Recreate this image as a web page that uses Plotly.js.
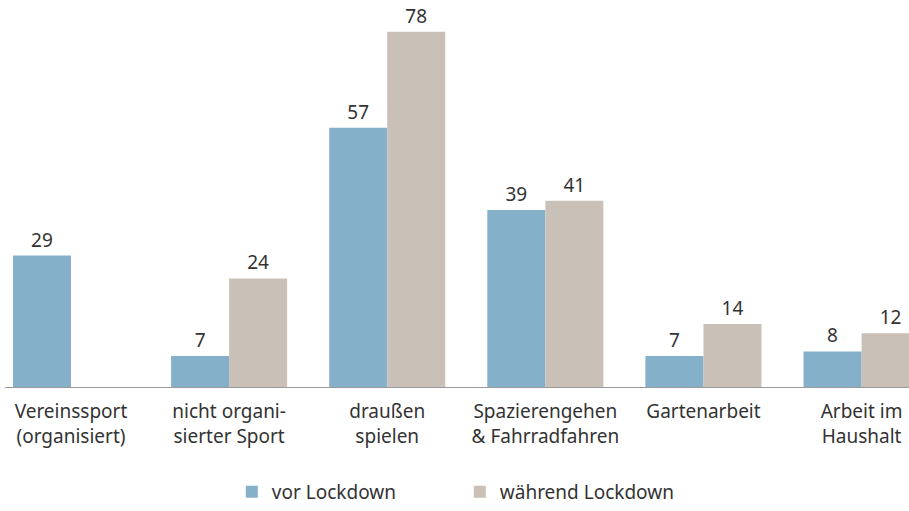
<!DOCTYPE html>
<html>
<head>
<meta charset="utf-8">
<script src="https://cdn.plot.ly/plotly-3.0.1.min.js"></script>
<style>html,body{margin:0;padding:0;background:#fff;}#chart{width:909px;height:511px;}</style>
</head>
<body>
<div id="chart"></div>
<script>
const categories = ["Vereinssport<br>(organisiert)", "nicht organi-<br>sierter Sport", "draußen<br>spielen", "Spazierengehen<br>& Fahrradfahren", "Gartenarbeit", "Arbeit im<br>Haushalt"];
const vorLockdown = [29, 7, 57, 39, 7, 8];
const waehrendLockdown = [null, 24, 78, 41, 14, 12];
const seriesNames = ["vor Lockdown", "während Lockdown"];

const idx = categories.map((c, i) => i);
const font = {family: "Noto Sans, sans-serif", size: 19, color: "#333333"};

const traces = [
  {type: "bar", name: seriesNames[0], x: idx, y: vorLockdown,
   text: vorLockdown.map(v => v == null ? "" : String(v)), textposition: "outside",
   textfont: font, cliponaxis: false, marker: {color: "#85b0ca"}, hoverinfo: "none"},
  {type: "bar", name: seriesNames[1], x: idx, y: waehrendLockdown,
   text: waehrendLockdown.map(v => v == null ? "" : String(v)), textposition: "outside",
   textfont: font, cliponaxis: false, marker: {color: "#c9c1b7"}, hoverinfo: "none"}
];

const layout = {
  width: 909, height: 511,
  margin: {l: 0, r: 0, t: 20, b: 123, autoexpand: false},
  paper_bgcolor: "#ffffff", plot_bgcolor: "#ffffff",
  font: font,
  barmode: "group", bargap: 0.266, bargroupgap: 0,
  xaxis: {range: [-0.449, 5.30], tickmode: "array", tickvals: idx, ticktext: categories,
          showgrid: false, zeroline: false, showline: false, ticks: "", tickfont: font,
          ticklabelstandoff: 10, automargin: false, fixedrange: true},
  yaxis: {range: [0, 80.6], visible: false, fixedrange: true},
  shapes: [{type: "line", xref: "x", yref: "y", x0: -0.417, x1: 5.30, y0: 0, y1: 0,
            line: {color: "#9a9a9a", width: 2}, layer: "above"}],
  showlegend: true,
  legend: {orientation: "h", x: 0.255, xanchor: "left", y: -0.334, yanchor: "bottom",
           font: font, entrywidth: 183, entrywidthmode: "pixels", traceorder: "normal"}
};

Plotly.newPlot("chart", traces, layout, {displayModeBar: false, staticPlot: true});
</script>
</body>
</html>
